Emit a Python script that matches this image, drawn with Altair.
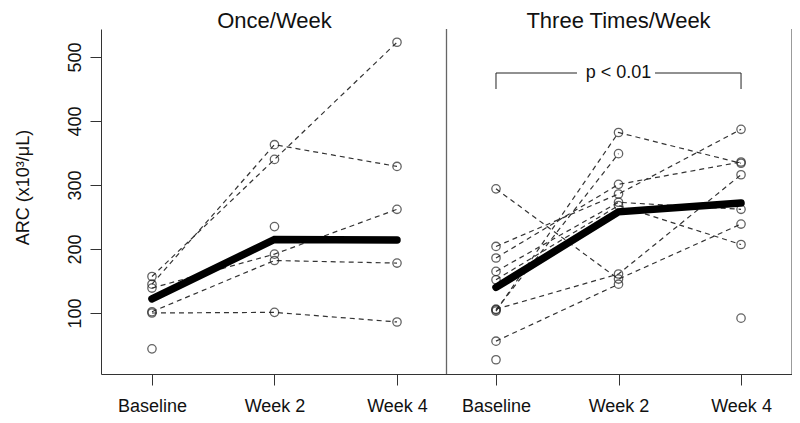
import json
import altair as alt
import pandas as pd

# ---------------- data ----------------
weeks = ["Baseline", "Week 2", "Week 4"]
panels = ["Once/Week", "Three Times/Week"]
panel_shift = [0.0, 2.808]          # where each panel's Baseline sits on the shared x axis

# Once/Week: one entry per subject (None = no value)
once_baseline = [157, 145, 139, 102, 100, None, 44]
once_week2 = [340, 363, 192, 182, 101, 235, None]
once_week4 = [523, 329, 262, 178, 86, None, None]
once_center = [122, 215, 214]

# Three Times/Week
three_baseline = [294, 204, 186, 165, 152, 106, 103, 56, 105, 27, None]
three_week2 = [153, 286, 301, 273, 268, 161, 382, 145, 349, None, None]
three_week4 = [239, 387, 336, 262, 207, 316, 334, None, None, None, 92]
three_center = [140, 258, 272]

y_ticks = [100, 200, 300, 400, 500]
y_domain = [4.7, 543.75]
x_domain = [-0.416, 5.224]
divider_x = [2.404, 5.224]

p_label = "p < 0.01"
bracket_y = 475
bracket_tip = 450
bracket_gap = [3.469, 4.106]

FONT = "Liberation Sans"

# ---------------- tables ----------------
rows = []
series = [
    (once_baseline, once_week2, once_week4),
    (three_baseline, three_week2, three_week4),
]
for p, cols in enumerate(series):
    for s in range(len(cols[0])):
        for w in range(3):
            v = cols[w][s]
            if v is not None:
                rows.append({"panel": panels[p], "sid": f"{p}-{s}",
                             "x": w + panel_shift[p], "y": v})
subj = pd.DataFrame(rows)

cent_rows = []
for p, c in enumerate([once_center, three_center]):
    for w in range(3):
        cent_rows.append({"panel": panels[p], "x": w + panel_shift[p], "y": c[w]})
cent = pd.DataFrame(cent_rows)

titles = pd.DataFrame({"label": panels, "x": [1 + s for s in panel_shift]})
frames = pd.DataFrame({"x": divider_x})

b0 = panel_shift[1]
b2 = 2 + panel_shift[1]
bracket_h = pd.DataFrame({"x": [b0, bracket_gap[1]], "x2": [bracket_gap[0], b2],
                          "y": [bracket_y, bracket_y]})
bracket_v = pd.DataFrame({"x": [b0, b2], "y": [bracket_tip, bracket_tip],
                          "y2": [bracket_y, bracket_y]})
ptext = pd.DataFrame({"x": [1 + panel_shift[1]], "y": [bracket_y], "t": [p_label]})

# ---------------- scales / axes ----------------
tick_vals = [w + s for s in panel_shift for w in range(3)]
wl = json.dumps(weeks).replace('"', "'")
label_expr = (f"datum.value < {divider_x[0]} ? {wl}[round(datum.value)] : "
              f"{wl}[round(datum.value - {panel_shift[1]})]")

xscale = alt.Scale(domain=x_domain, nice=False, zero=False)
yscale = alt.Scale(domain=y_domain, nice=False, zero=False)

xaxis = alt.Axis(values=tick_vals, labelExpr=label_expr, grid=False, tickSize=11,
                 labelPadding=12, labelFontSize=18, labelFont=FONT, labelColor="#111",
                 domainColor="#333", tickColor="#333", labelOverlap=False,
                 labelFlush=False, title=None)
yaxis = alt.Axis(values=y_ticks, grid=False, tickSize=11, labelAngle=270,
                 labelAlign="center", labelBaseline="bottom", labelPadding=6,
                 labelFontSize=18, labelFont=FONT, labelColor="#111",
                 domainColor="#333", tickColor="#333", labelOverlap=False,
                 title="ARC (x10³/μL)", titleFont=FONT, titleFontSize=18,
                 titleFontWeight="normal", titleColor="#111", titleAngle=270,
                 titleX=-78, titleY=158, titleAlign="center", titleBaseline="middle")

X = alt.X("x:Q", scale=xscale, axis=xaxis)
Y = alt.Y("y:Q", scale=yscale, axis=yaxis)

lines = alt.Chart(subj).mark_line(strokeDash=[5, 4], color="#333", strokeWidth=1.2).encode(
    x=X, y=Y, detail="sid:N", order="x:Q")
points = alt.Chart(subj).mark_point(shape="circle", filled=False, size=70,
                                    color="#222", strokeWidth=1.3).encode(x=X, y=Y)
center = alt.Chart(cent).mark_line(color="black", strokeWidth=7.5, strokeCap="round").encode(
    x=X, y=Y, detail="panel:N", order="x:Q")
frame = alt.Chart(frames).mark_rule(color="#666", strokeWidth=1.3).encode(
    x=alt.X("x:Q", scale=xscale), y=alt.value(0), y2=alt.value(345))
heads = alt.Chart(titles).mark_text(fontSize=22, font=FONT, color="#111",
                                    baseline="alphabetic").encode(
    x=alt.X("x:Q", scale=xscale), y=alt.value(-1), text="label:N")
bh = alt.Chart(bracket_h).mark_rule(color="#222", strokeWidth=1).encode(
    x=alt.X("x:Q", scale=xscale), x2="x2:Q", y=alt.Y("y:Q", scale=yscale))
bv = alt.Chart(bracket_v).mark_rule(color="#222", strokeWidth=1).encode(
    x=alt.X("x:Q", scale=xscale), y=alt.Y("y:Q", scale=yscale), y2="y2:Q")
pt = alt.Chart(ptext).mark_text(fontSize=18, font=FONT, color="#111",
                                baseline="middle").encode(
    x=alt.X("x:Q", scale=xscale), y=alt.Y("y:Q", scale=yscale), text="t:N")

chart = alt.layer(lines, points, center, frame, heads, bh, bv, pt).properties(
    width=691, height=345,
    autosize=alt.AutoSizeParams(type="none"),
    padding={"left": 93, "top": 21, "right": 0, "bottom": 41},
).configure_view(strokeWidth=0)

chart.save("out.html", embed_options={"renderer": "svg", "actions": False})
